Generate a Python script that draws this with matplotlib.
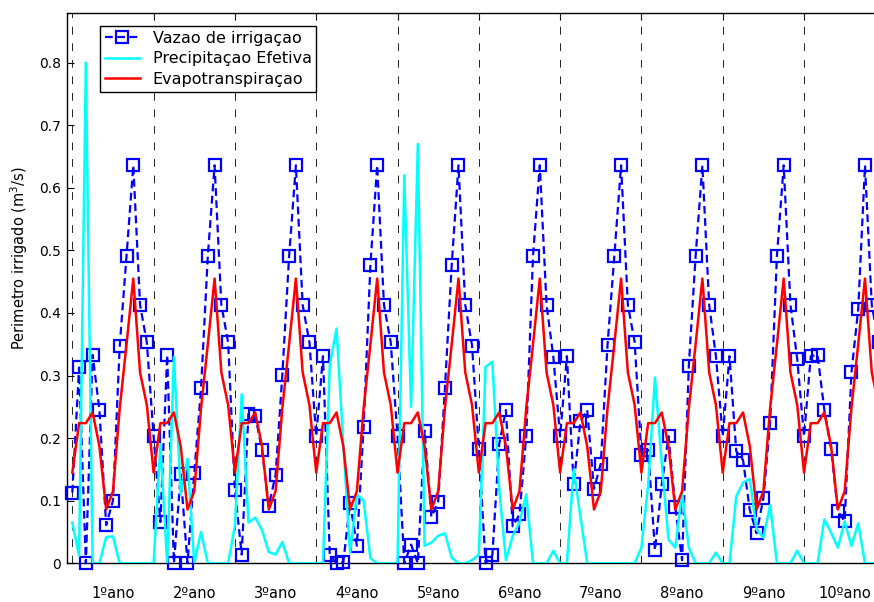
import matplotlib
matplotlib.use('Agg')
import matplotlib.pyplot as plt
import matplotlib.transforms as mtransforms

months = list(range(1, 121))

vazao = [
    0.113, 0.313, 0.000, 0.333, 0.245, 0.061, 0.100, 0.348, 0.491, 0.636, 0.413, 0.353,
    0.203, 0.066, 0.333, 0.000, 0.142, 0.000, 0.144, 0.280, 0.491, 0.636, 0.413, 0.353,
    0.117, 0.014, 0.239, 0.236, 0.181, 0.092, 0.141, 0.301, 0.491, 0.636, 0.413, 0.353,
    0.203, 0.331, 0.014, 0.000, 0.002, 0.097, 0.028, 0.218, 0.477, 0.636, 0.413, 0.353,
    0.203, 0.000, 0.030, 0.000, 0.212, 0.074, 0.098, 0.280, 0.477, 0.636, 0.413, 0.348,
    0.183, 0.000, 0.013, 0.190, 0.245, 0.059, 0.078, 0.203, 0.491, 0.636, 0.413, 0.330,
    0.203, 0.331, 0.126, 0.227, 0.245, 0.119, 0.159, 0.349, 0.491, 0.636, 0.413, 0.354,
    0.173, 0.181, 0.021, 0.126, 0.203, 0.090, 0.005, 0.316, 0.491, 0.636, 0.413, 0.331,
    0.203, 0.331, 0.179, 0.165, 0.085, 0.048, 0.104, 0.225, 0.491, 0.636, 0.413, 0.326,
    0.203, 0.331, 0.333, 0.245, 0.183, 0.083, 0.067, 0.305, 0.406, 0.636, 0.413, 0.353,
]

precip = [
    0.065, 0.012, 0.800, 0.000, 0.000, 0.042, 0.043, 0.000, 0.000, 0.000, 0.000, 0.000,
    0.000, 0.190, 0.000, 0.330, 0.110, 0.167, 0.000, 0.050, 0.000, 0.000, 0.000, 0.000,
    0.060, 0.270, 0.065, 0.073, 0.053, 0.018, 0.014, 0.034, 0.000, 0.000, 0.000, 0.000,
    0.000, 0.000, 0.317, 0.375, 0.190, 0.017, 0.110, 0.100, 0.008, 0.000, 0.000, 0.000,
    0.000, 0.620, 0.250, 0.670, 0.028, 0.033, 0.044, 0.048, 0.009, 0.000, 0.000, 0.005,
    0.014, 0.314, 0.322, 0.120, 0.005, 0.044, 0.065, 0.110, 0.000, 0.000, 0.000, 0.020,
    0.000, 0.000, 0.150, 0.075, 0.000, 0.000, 0.000, 0.000, 0.000, 0.000, 0.000, 0.000,
    0.025, 0.126, 0.297, 0.160, 0.038, 0.025, 0.113, 0.025, 0.000, 0.000, 0.000, 0.017,
    0.000, 0.000, 0.107, 0.129, 0.135, 0.054, 0.041, 0.093, 0.000, 0.000, 0.000, 0.020,
    0.000, 0.000, 0.000, 0.070, 0.049, 0.025, 0.067, 0.028, 0.064, 0.000, 0.000, 0.000,
]

evapo = [
    0.145, 0.224, 0.224, 0.241, 0.187, 0.086, 0.115, 0.248, 0.350, 0.455, 0.305, 0.253,
    0.145, 0.224, 0.224, 0.241, 0.187, 0.086, 0.115, 0.248, 0.350, 0.455, 0.305, 0.253,
    0.145, 0.224, 0.224, 0.241, 0.187, 0.086, 0.115, 0.248, 0.350, 0.455, 0.305, 0.253,
    0.145, 0.224, 0.224, 0.241, 0.187, 0.086, 0.115, 0.248, 0.350, 0.455, 0.305, 0.253,
    0.145, 0.224, 0.224, 0.241, 0.187, 0.086, 0.115, 0.248, 0.350, 0.455, 0.305, 0.253,
    0.145, 0.224, 0.224, 0.241, 0.187, 0.086, 0.115, 0.248, 0.350, 0.455, 0.305, 0.253,
    0.145, 0.224, 0.224, 0.241, 0.187, 0.086, 0.115, 0.248, 0.350, 0.455, 0.305, 0.253,
    0.145, 0.224, 0.224, 0.241, 0.187, 0.086, 0.115, 0.248, 0.350, 0.455, 0.305, 0.253,
    0.145, 0.224, 0.224, 0.241, 0.187, 0.086, 0.115, 0.248, 0.350, 0.455, 0.305, 0.253,
    0.145, 0.224, 0.224, 0.241, 0.187, 0.086, 0.115, 0.248, 0.350, 0.455, 0.305, 0.253,
]

year_starts = [1, 13, 25, 37, 49, 61, 73, 85, 97, 109]
year_mids = [7, 19, 31, 43, 55, 67, 79, 91, 103, 115]
year_labels = ['1ºano', '2ºano', '3ºano', '4ºano', '5ºano',
               '6ºano', '7ºano', '8ºano', '9ºano', '10ºano']
y_ticks = [0, 0.1, 0.2, 0.3, 0.4, 0.5, 0.6, 0.7, 0.8]
y_tick_labels = ['0', '0.1', '0.2', '0.3', '0.4', '0.5', '0.6', '0.7', '0.8']

plt.rcParams['font.family'] = ['DejaVu Sans']

fig = plt.figure(figsize=(8.74, 6.02), dpi=100)
ax = fig.add_axes([0.0763, 0.0643, 0.9237, 0.9147])

ax.plot(months, vazao, color='#0000ff', ls=(0, (3.5, 2)), lw=1.6,
        marker='s', ms=8.5, mfc='none', mec='#0000ff', mew=1.6,
        label='Vazao de irrigaçao', clip_on=False, zorder=3)
ax.plot(months, precip, color='#00ffff', lw=1.8, label='Precipitaçao Efetiva', zorder=4)
ax.plot(months, evapo, color='#ff0000', lw=1.8, label='Evapotranspiraçao', zorder=5)

for xs in year_starts:
    ax.axvline(xs, color='#222222', lw=0.7, ls=(0, (8, 9)), zorder=2)

ax.set_xlim(0.17, 119.33)
ax.set_ylim(0, 0.88)
ax.set_yticks(y_ticks)
ax.set_yticklabels(y_tick_labels, fontsize=10)
ax.set_xticks(year_starts[1:])
ax.set_xticklabels([])
ax.tick_params(axis='both', direction='in', length=5, width=0.8, top=True, pad=4)
ax.spines['right'].set_visible(False)
for s in ['top', 'left', 'bottom']:
    ax.spines[s].set_linewidth(1.0)

trans = mtransforms.blended_transform_factory(ax.transData, ax.transAxes)
for xm, lab in zip(year_mids, year_labels):
    ax.text(xm, -0.054, lab, transform=trans, ha='center', va='center', fontsize=10.5)

fig.text(19 / 874, 1 - 258 / 602, 'Perimetro irrigado (m$^3$/s)', rotation=90,
         ha='center', va='center', fontsize=10.5)

leg = ax.legend(loc='upper left', bbox_to_anchor=(0.0412, 0.9758), borderaxespad=0,
                fontsize=11.5, frameon=True, fancybox=False, framealpha=1,
                edgecolor='black', numpoints=1, handlelength=2.2,
                borderpad=0.3, labelspacing=0.35, handletextpad=0.8)
leg.get_frame().set_linewidth(1.0)

fig.savefig('out.png', dpi=100)
